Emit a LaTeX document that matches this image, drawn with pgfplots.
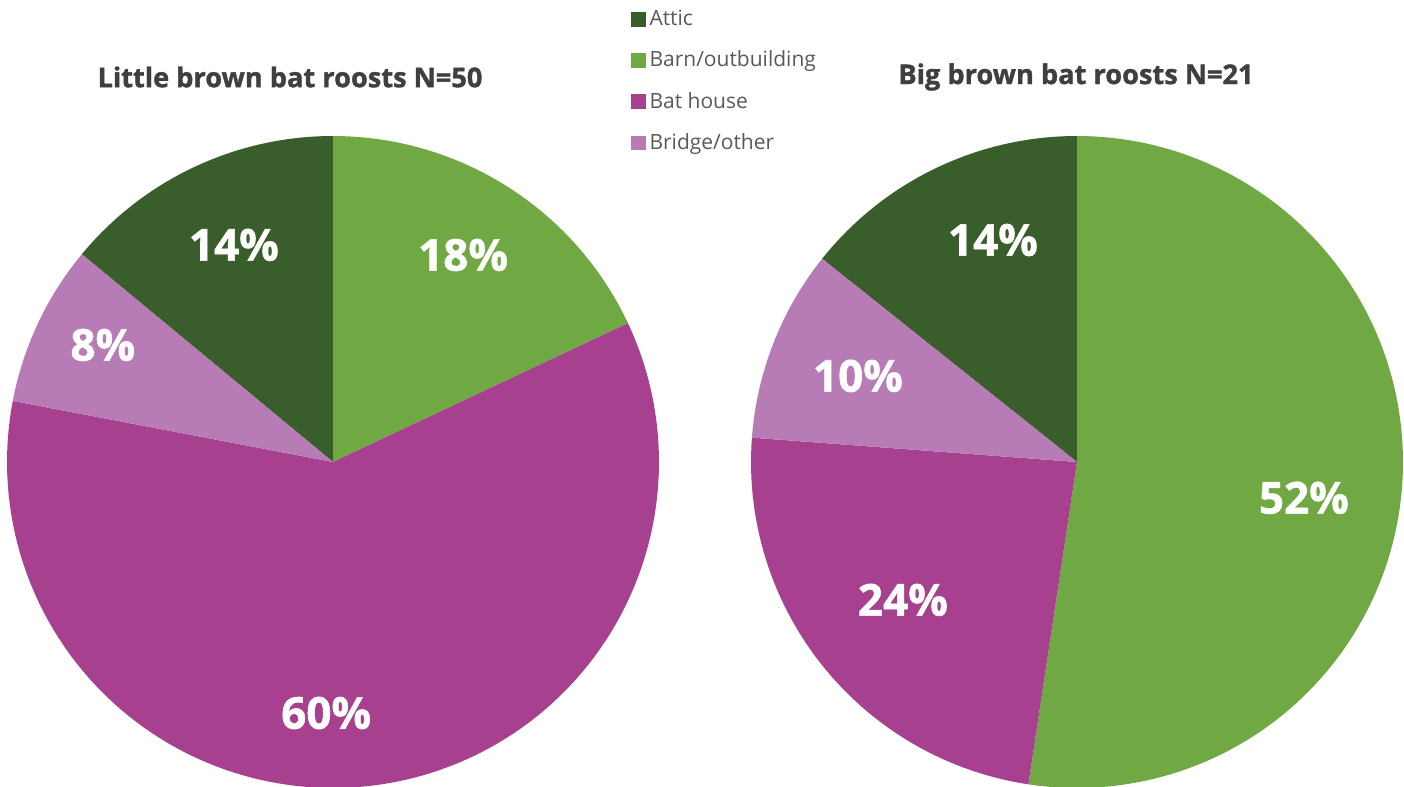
\documentclass[border=0pt]{standalone}
\usepackage{pgfplots}
\pgfplotsset{compat=1.18}
\usepackage{fontspec}
\setmainfont{Open Sans}
\newfontfamily\heavy[BoldFeatures={FakeBold=1.2}]{Open Sans}
\definecolor{attic}{HTML}{3A5E2B}
\definecolor{barn}{HTML}{70A843}
\definecolor{bathouse}{HTML}{A6408F}
\definecolor{bridge}{HTML}{B77BB5}
\definecolor{titlegray}{HTML}{3F3F3F}
\definecolor{leggray}{HTML}{595959}
% counts (Little brown bat, N=50): Attic, Barn, Bat house, Bridge
\def\LA{7}\def\LB{9}\def\LH{30}\def\LR{4}\def\LN{50}
% counts (Big brown bat, N=21)
\def\BA{3}\def\BB{11}\def\BH{5}\def\BR{2}\def\BN{21}
\tikzset{pct/.style={font=\heavy\bfseries\fontsize{22}{22}\selectfont, text=white},
  ttl/.style={font=\heavy\bfseries\fontsize{13.6}{14}\selectfont, text=titlegray}}
\begin{document}
\begin{tikzpicture}
\useasboundingbox (0,0) rectangle (702pt,393.5pt);
\pgfplotsset{pie/.style={hide axis, scale only axis, x=163pt, y=163pt,
  xmin=-1, xmax=1, ymin=-1, ymax=1, clip=false, anchor=center}}
% ---------- left pie ----------
\pgfmathsetmacro{\aA}{90}
\pgfmathsetmacro{\aB}{90-360*\LB/\LN}
\pgfmathsetmacro{\aC}{\aB-360*\LH/\LN}
\pgfmathsetmacro{\aD}{\aC-360*\LR/\LN}
\pgfmathsetmacro{\aE}{\aD-360*\LA/\LN}
\begin{axis}[pie, at={(166.5pt,162.5pt)},
  legend style={at={(axis cs:0.912,1.40)}, anchor=north west, draw=none, fill=none,
    font=\fontsize{10.5}{12}\selectfont, text=leggray, row sep=7.2pt, inner sep=0pt},
  legend cell align=left,
  legend image code/.code={\fill[#1] (0pt,-3.7pt) rectangle (7.4pt,3.7pt);}]
\addplot[fill=attic, draw=none, domain=\aE:\aD, samples=40] ({cos(x)},{sin(x)}) -- (0,0) -- cycle;
\addplot[fill=barn, draw=none, domain=\aB:\aA, samples=40] ({cos(x)},{sin(x)}) -- (0,0) -- cycle;
\addplot[fill=bathouse, draw=none, domain=\aC:\aB, samples=120] ({cos(x)},{sin(x)}) -- (0,0) -- cycle;
\addplot[fill=bridge, draw=none, domain=\aD:\aC, samples=30] ({cos(x)},{sin(x)}) -- (0,0) -- cycle;
\legend{Attic, Barn/outbuilding, Bat house, Bridge/other}
\node[pct] at (axis cs:-0.304,0.666) {14\%};
\node[pct] at (axis cs:0.399,0.635) {18\%};
\node[pct] at (axis cs:-0.706,0.359) {8\%};
\node[pct] at (axis cs:-0.021,-0.770) {60\%};
\end{axis}
% ---------- right pie ----------
\pgfmathsetmacro{\bA}{90}
\pgfmathsetmacro{\bB}{90-360*\BB/\BN}
\pgfmathsetmacro{\bC}{\bB-360*\BH/\BN}
\pgfmathsetmacro{\bD}{\bC-360*\BR/\BN}
\pgfmathsetmacro{\bE}{\bD-360*\BA/\BN}
\begin{axis}[pie, at={(538.5pt,162.5pt)}]
\addplot[fill=attic, draw=none, domain=\bE:\bD, samples=40] ({cos(x)},{sin(x)}) -- (0,0) -- cycle;
\addplot[fill=barn, draw=none, domain=\bB:\bA, samples=120] ({cos(x)},{sin(x)}) -- (0,0) -- cycle;
\addplot[fill=bathouse, draw=none, domain=\bC:\bB, samples=60] ({cos(x)},{sin(x)}) -- (0,0) -- cycle;
\addplot[fill=bridge, draw=none, domain=\bD:\bC, samples=30] ({cos(x)},{sin(x)}) -- (0,0) -- cycle;
\node[pct] at (axis cs:-0.258,0.681) {14\%};
\node[pct] at (axis cs:-0.672,0.264) {10\%};
\node[pct] at (axis cs:0.696,-0.110) {52\%};
\node[pct] at (axis cs:-0.534,-0.423) {24\%};
\end{axis}
% ---------- titles ----------
\node[ttl] at (145pt,355pt) {Little brown bat roosts N=50};
\node[ttl] at (538pt,355pt) {Big brown bat roosts N=21};
\end{tikzpicture}
\end{document}
